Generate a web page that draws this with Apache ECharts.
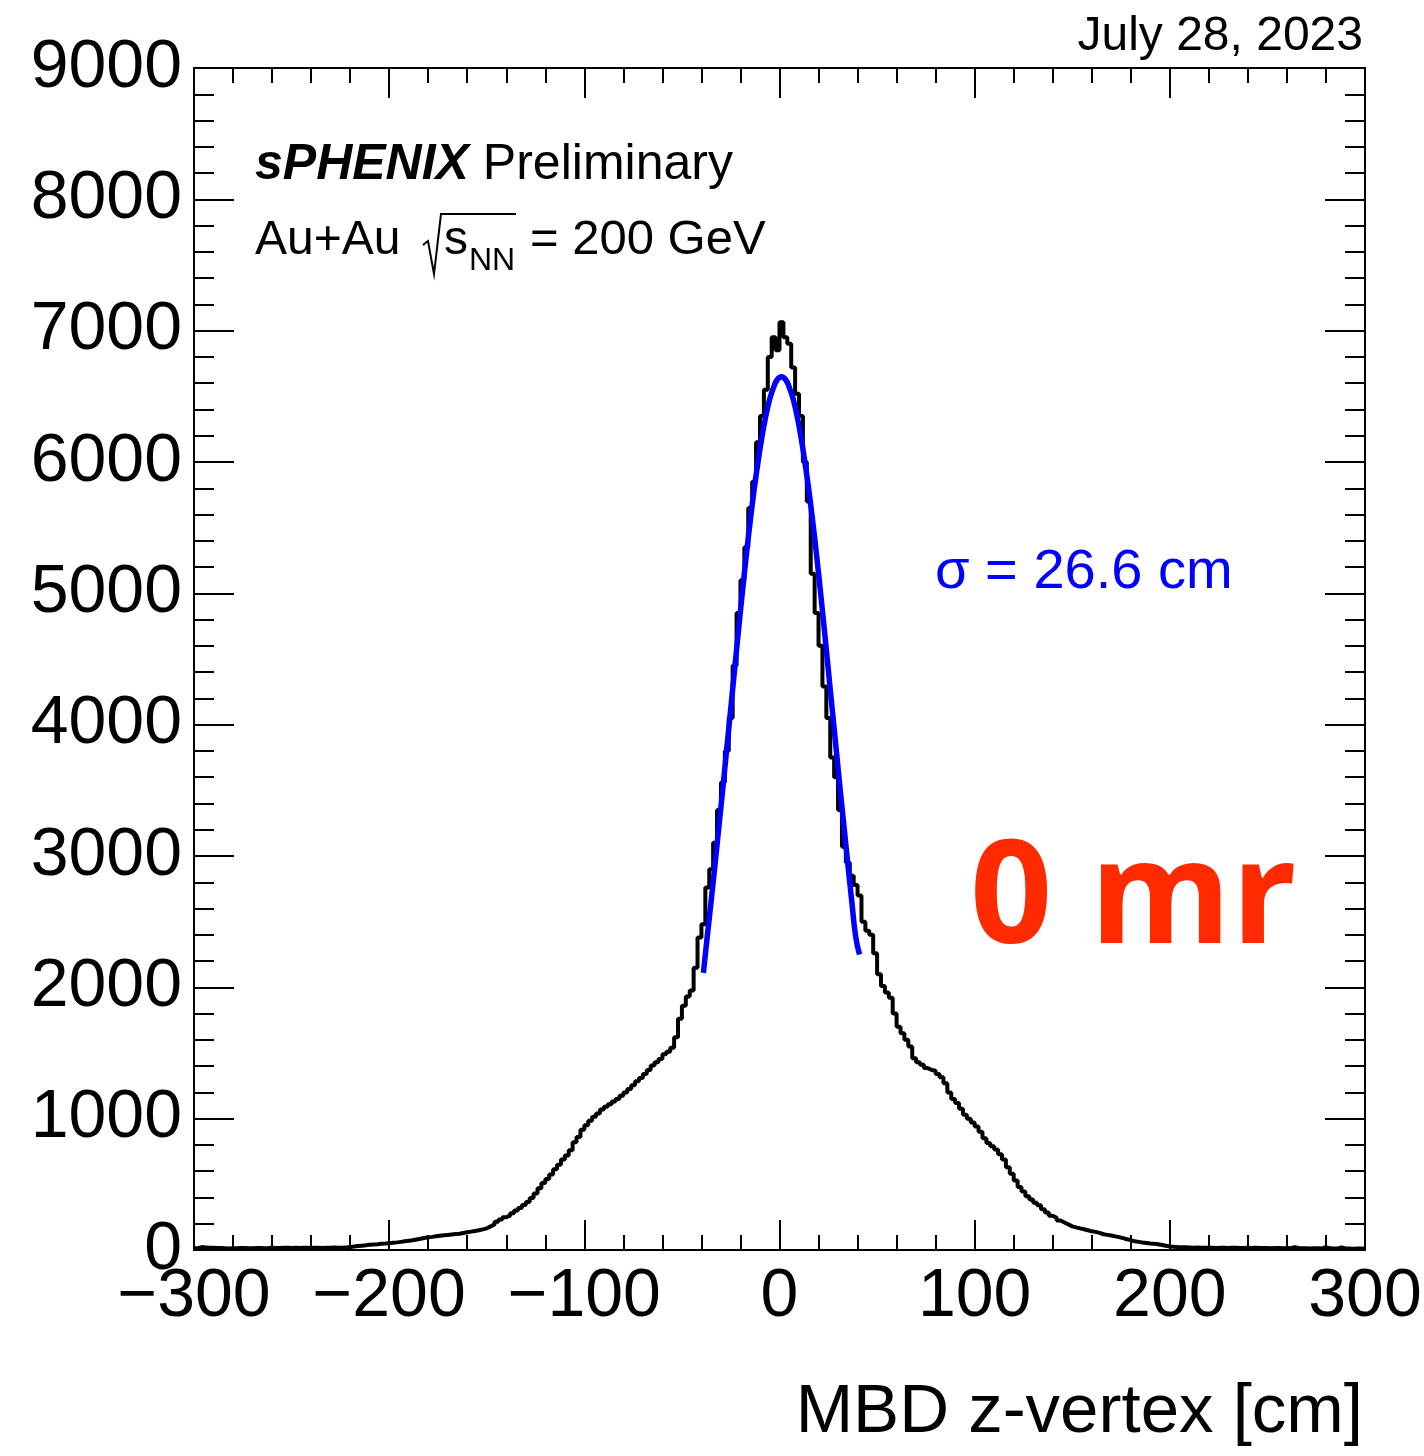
<!DOCTYPE html>
<html><head><meta charset="utf-8">
<script src="https://cdn.jsdelivr.net/npm/echarts@6/dist/echarts.min.js"></script>
<style>html,body{margin:0;padding:0;background:#fff}#c{width:1424px;height:1456px}</style>
</head><body><div id="c"></div>
<script>
// ---- data ----
const binLow = -300;
const binWidth = 2;
const counts = [
 14,22,20,18,17,16,15,14,12,13,
 14,15,16,14,13,15,16,14,15,17,
 16,15,17,18,16,17,16,18,17,16,
 18,17,16,17,18,19,18,17,20,22,
 26,30,33,36,40,42,44,47,49,52,
 55,58,62,66,70,74,80,86,92,97,
 100,104,108,112,115,118,121,124,130,135,
 140,145,150,157,165,180,195,215,232,250,
 262,280,300,320,342,365,395,430,470,510,
 540,575,615,650,690,720,760,820,860,915,
 950,985,1015,1040,1070,1090,1110,1130,1150,1175,
 1200,1225,1255,1285,1310,1340,1370,1405,1430,1455,
 1490,1510,1540,1620,1760,1860,1930,1975,2150,2380,
 2480,2760,2900,3100,3350,3560,3800,4050,4450,4850,
 5100,5350,5650,5850,6150,6350,6550,6800,6950,6850,
 7065,6950,6900,6720,6520,6350,6000,5700,5150,4850,
 4600,4290,4050,3750,3600,3350,3070,2950,2850,2780,
 2700,2500,2430,2400,2260,2100,2010,1960,1920,1800,
 1700,1650,1600,1550,1460,1430,1410,1385,1370,1365,
 1340,1315,1270,1200,1150,1120,1075,1030,1000,970,
 940,900,850,815,790,765,730,690,630,580,
 530,480,445,410,385,360,340,310,285,260,
 245,225,210,195,180,172,165,158,150,142,
 138,130,120,115,110,104,98,90,82,75,
 66,62,57,54,50,47,44,38,32,27,
 24,22,21,20,19,18,19,18,17,18,
 17,16,18,17,16,18,17,16,15,17,
 16,17,15,16,15,14,16,15,14,15,
 14,22,15,13,14,12,13,14,12,22,
 13,12,11,20,12,11,10,12,11,10
];
const fitZ = [-39,-37,-35,-33,-31,-29,-27,-25,-23,-21,-19,-17,-15,-13,-11,-9,-7,-5,-3,-1,1,3,5,7,9,11,13,15,17,19,21,23,25,27,29,31,33,35,37,39,41];
const fitVal = [2110,2390,2660,2940,3230,3520,3820,4120,4420,4720,5010,5290,5550,5790,6000,6190,6350,6480,6570,6630,6650,6630,6570,6480,6350,6190,6000,5790,5550,5290,5010,4720,4420,4120,3820,3520,3230,2940,2660,2390,2250];
const xMin = -300, xMax = 300, xStep = 100;
const yMin = 0, yMax = 9000, yStep = 1000;

// ---- build series data ----
const histData = counts.map((v, i) => [binLow + i * binWidth, v]);
histData.push([binLow + counts.length * binWidth, counts[counts.length - 1]]);
const fitData = fitZ.map((z, i) => [z, fitVal[i]]);

const FF = '"Liberation Sans", Arial, Helvetica, sans-serif';
const K = 0.3465; // baseline offset (Liberation Sans)
function txt(x, baseline, size, text, opts) {
  opts = opts || {};
  const k = opts.k || K;
  return {
    type: 'text', x: x, y: baseline - k * size, z: 100,
    style: Object.assign({
      text: text, fontSize: size, fontFamily: opts.family || FF,
      fontWeight: opts.weight || 'normal', fontStyle: opts.style || 'normal',
      fill: opts.color || '#000', align: opts.align || 'left', verticalAlign: 'middle',
      lineHeight: size
    }, opts.extra || {})
  };
}

const axisCommon = {
  type: 'value',
  axisLine: { show: true, onZero: false, lineStyle: { color: '#000', width: 2 } },
  splitLine: { show: false },
  minorSplitLine: { show: false }
};

const chart = echarts.init(document.getElementById('c'), null, { renderer: 'canvas' });
chart.setOption({
  animation: false,
  backgroundColor: '#fff',
  grid: { left: 194, right: 59, top: 68, bottom: 206, containLabel: false, outerBoundsMode: 'none' },
  xAxis: [
    Object.assign({}, axisCommon, {
      position: 'bottom', min: xMin, max: xMax, interval: xStep,
      axisTick: { show: true, inside: true, length: 30, lineStyle: { color: '#000', width: 2 } },
      minorTick: { show: true, splitNumber: 5, length: 15, lineStyle: { color: '#000', width: 2 } },
      axisLabel: {
        show: true, inside: false, margin: 13, fontSize: 68, lineHeight: 68, fontFamily: FF, color: '#000',
        showMinLabel: true, showMaxLabel: true,
        formatter: v => String(v).replace('-', '\u2212')
      }
    }),
    Object.assign({}, axisCommon, {
      position: 'top', min: xMin, max: xMax, interval: xStep,
      axisTick: { show: true, inside: true, length: 30, lineStyle: { color: '#000', width: 2 } },
      minorTick: { show: true, splitNumber: 5, length: 15, lineStyle: { color: '#000', width: 2 } },
      axisLabel: { show: false }
    })
  ],
  yAxis: [
    Object.assign({}, axisCommon, {
      position: 'left', min: yMin, max: yMax, interval: yStep,
      axisTick: { show: true, inside: true, length: 40, lineStyle: { color: '#000', width: 2 } },
      minorTick: { show: true, splitNumber: 5, length: 20, lineStyle: { color: '#000', width: 2 } },
      axisLabel: {
        show: true, margin: 12, fontSize: 68, lineHeight: 68, fontFamily: FF, color: '#000',
        showMinLabel: true, showMaxLabel: true,
        formatter: v => String(v)
      }
    }),
    Object.assign({}, axisCommon, {
      position: 'right', min: yMin, max: yMax, interval: yStep,
      axisTick: { show: true, inside: true, length: 40, lineStyle: { color: '#000', width: 2 } },
      minorTick: { show: true, splitNumber: 5, length: 20, lineStyle: { color: '#000', width: 2 } },
      axisLabel: { show: false }
    })
  ],
  series: [
    {
      type: 'line', xAxisIndex: 0, yAxisIndex: 0, data: histData, step: 'end',
      symbol: 'none', lineStyle: { color: '#000', width: 4 }, z: 2
    },
    {
      type: 'line', xAxisIndex: 0, yAxisIndex: 0, data: fitData, smooth: true,
      symbol: 'none', lineStyle: { color: '#0000ff', width: 5.5 }, z: 3
    }
  ],
  graphic: [
    txt(1363, 53, 48, 'July 28, 2023', { align: 'right' }),
    {
      type: 'text', x: 255, y: 183 - K * 50, z: 100,
      style: {
        text: '{b|sPHENIX} {n|Preliminary}', verticalAlign: 'middle', align: 'left',
        fontSize: 50, fontFamily: FF, fill: '#000',
        rich: {
          b: { fontSize: 50, fontFamily: FF, fontWeight: 'bold', fontStyle: 'italic', fill: '#000' },
          n: { fontSize: 50, fontFamily: FF, fill: '#000' }
        }
      }
    },
    txt(255, 257, 48, 'Au+Au'),
    {
      type: 'polyline', z: 100,
      shape: { points: [[423, 245], [428, 241], [434, 274], [441, 214], [516, 214]] },
      style: { stroke: '#000', lineWidth: 2, fill: null }
    },
    txt(444, 257, 48, 's'),
    txt(469, 272, 32, 'NN'),
    txt(530, 257, 49, '= 200 GeV'),
    txt(935, 592, 56, '\u03c3 = 26.6 cm', { color: '#0000ff' }),
    txt(970, 958, 144, '0 mr', { family: '"Open Sans", sans-serif', weight: 'bold', color: '#ff2a00', k: 0.388 }),
    txt(1363, 1437, 69, 'MBD z-vertex [cm]', { align: 'right' })
  ]
});
</script>
</body></html>
